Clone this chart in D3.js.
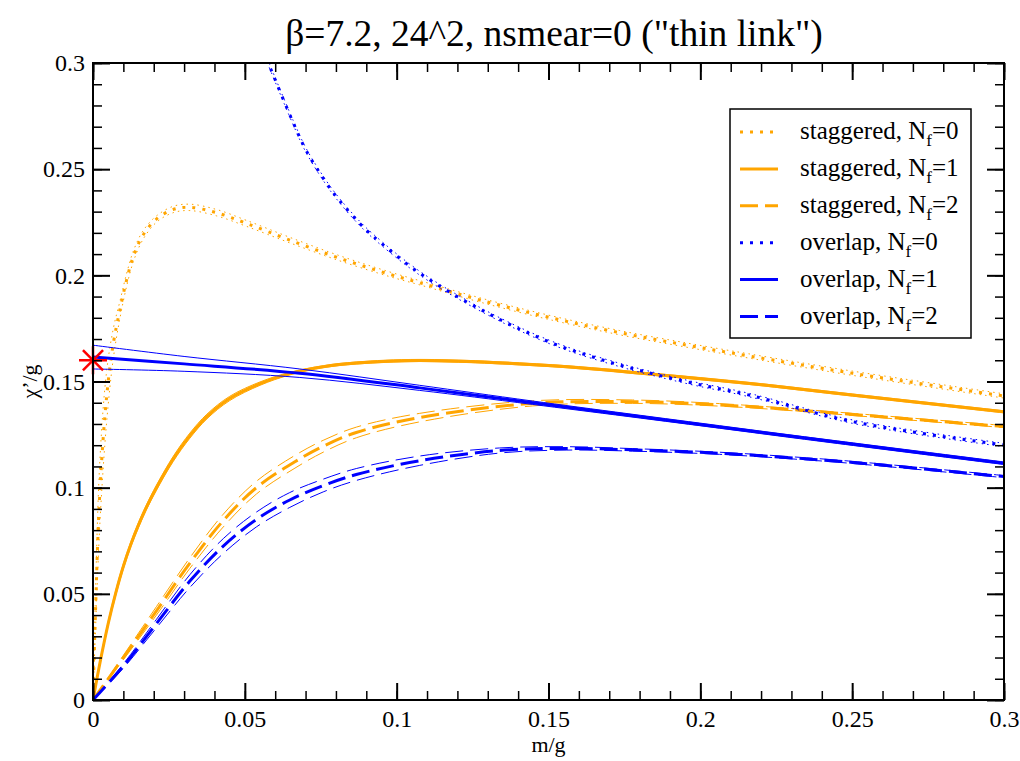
<!DOCTYPE html>
<html>
<head>
<meta charset="utf-8">
<script src="https://cdn.jsdelivr.net/npm/d3@7"></script>
<style>
  html, body { margin: 0; padding: 0; background: #fff; }
  svg { display: block; }
</style>
</head>
<body>
<svg id="chart" width="1020" height="761"></svg>
<script>
// ---------------- data ----------------
const titleText = 'β=7.2, 24^2, nsmear=0 ("thin link")';
const xLabel = "m/g";
const yLabel = "χ’/g";
const xTicks = [0, 0.05, 0.1, 0.15, 0.2, 0.25, 0.3];
const xTickLabels = ["0", "0.05", "0.1", "0.15", "0.2", "0.25", "0.3"];
const yTicks = [0, 0.05, 0.1, 0.15, 0.2, 0.25, 0.3];
const yTickLabels = ["0", "0.05", "0.1", "0.15", "0.2", "0.25", "0.3"];

// staggered, Nf=0
const stag0M   = [0, 0.0007, 0.0023, 0.0045, 0.0067, 0.0089, 0.0111, 0.0133, 0.0165, 0.0209, 0.0264, 0.0319, 0.0407, 0.0505, 0.0648, 0.0813, 0.0977, 0.1076, 0.1295, 0.1514, 0.1734, 0.1953, 0.2161, 0.2501, 0.3];
const stag0V   = [0, 0.036, 0.099, 0.143, 0.168, 0.184, 0.198, 0.209, 0.219, 0.2265, 0.231, 0.232, 0.2295, 0.2245, 0.2166, 0.208, 0.2005, 0.1965, 0.1876, 0.1798, 0.173, 0.1672, 0.162, 0.1539, 0.1432];
const stag0Err = [0, 0.008, 0.015, 0.012, 0.007, 0.004, 0.003, 0.0025, 0.002, 0.0015, 0.0015, 0.0015, 0.0015, 0.0014, 0.0013, 0.0012, 0.0011, 0.001, 0.001, 0.001, 0.001, 0.001, 0.001, 0.001, 0.001];

// staggered, Nf=1
const stag1M   = [0, 0.0025, 0.005, 0.0075, 0.01, 0.0125, 0.015, 0.0175, 0.0209, 0.0264, 0.0319, 0.0375, 0.045, 0.055, 0.0648, 0.076, 0.0867, 0.1076, 0.1514, 0.1843, 0.2161, 0.2501, 0.3];
const stag1V   = [0, 0.019, 0.036, 0.0505, 0.063, 0.0735, 0.0825, 0.0905, 0.1000, 0.1135, 0.1245, 0.1335, 0.1420, 0.1490, 0.1537, 0.1570, 0.1587, 0.1599, 0.1574, 0.1534, 0.1491, 0.1436, 0.1357];
const stag1Err = [0, 0.0008, 0.001, 0.0012, 0.0012, 0.0012, 0.0012, 0.0012, 0.0012, 0.0012, 0.0012, 0.0011, 0.001, 0.0008, 0.0006, 0.0005, 0.0005, 0.0005, 0.0005, 0.0005, 0.0005, 0.0005, 0.0005];

// staggered, Nf=2
const stag2M   = [0, 0.0100, 0.0209, 0.0319, 0.0429, 0.0538, 0.0665, 0.0758, 0.0867, 0.1076, 0.1448, 0.1777, 0.2063, 0.2326, 0.2501, 0.3];
const stag2V   = [0, 0.0200, 0.0420, 0.0645, 0.0845, 0.1000, 0.1122, 0.1195, 0.1260, 0.1330, 0.1397, 0.1405, 0.1390, 0.1365, 0.1345, 0.1288];
const stag2Err = [0, 0.001, 0.002, 0.0025, 0.003, 0.003, 0.003, 0.0028, 0.0025, 0.002, 0.0012, 0.0008, 0.0006, 0.0005, 0.0005, 0.0005];

// overlap, Nf=0
const ov0M   = [0.0560, 0.0659, 0.0703, 0.0769, 0.0813, 0.0878, 0.0922, 0.1076, 0.1295, 0.1514, 0.1734, 0.1953, 0.2161, 0.2501, 0.3];
const ov0V   = [0.306, 0.272, 0.2585, 0.2434, 0.235, 0.2245, 0.2185, 0.2010, 0.1825, 0.168, 0.1578, 0.1499, 0.1436, 0.1311, 0.1201];
const ov0Err = [0.001, 0.001, 0.001, 0.001, 0.001, 0.001, 0.001, 0.0009, 0.0008, 0.0008, 0.0008, 0.0008, 0.0008, 0.0008, 0.0008];

// overlap, Nf=1
const ov1M   = [0, 0.0300, 0.0681, 0.1076, 0.1448, 0.2063, 0.2326, 0.3];
const ov1V   = [0.1615, 0.1583, 0.1539, 0.1470, 0.1400, 0.1286, 0.1237, 0.1115];
const ov1Err = [0.0056, 0.0035, 0.002, 0.0012, 0.0008, 0.0006, 0.0006, 0.0006];

// overlap, Nf=2
const ov2M   = [0, 0.01, 0.0209, 0.0319, 0.0429, 0.0538, 0.0648, 0.0758, 0.0867, 0.1076, 0.1339, 0.1558, 0.1777, 0.2063, 0.2326, 0.2501, 0.3];
const ov2V   = [0, 0.0160, 0.0360, 0.0560, 0.0725, 0.0850, 0.0942, 0.1010, 0.1062, 0.1127, 0.1175, 0.1185, 0.1178, 0.1162, 0.1138, 0.1119, 0.1052];
const ov2Err = [0, 0.001, 0.002, 0.003, 0.0035, 0.0035, 0.0035, 0.003, 0.0028, 0.0022, 0.0012, 0.0008, 0.0006, 0.0005, 0.0005, 0.0005, 0.0005];

// red star marker
const starM = [0];
const starV = [0.16];

const seriesNames = ["staggered, N|f|=0", "staggered, N|f|=1", "staggered, N|f|=2",
                     "overlap, N|f|=0", "overlap, N|f|=1", "overlap, N|f|=2"];

// ---------------- drawing ----------------
const FONT = '"Liberation Serif", Tinos, "Times New Roman", Times, "Nimbus Roman", "DejaVu Serif", serif';
const svg = d3.select("#chart").style("font-family", FONT);
const L = 93, R = 1004, T = 63, B = 700;
const x = d3.scaleLinear().domain([0, 0.3]).range([L, R]);
const y = d3.scaleLinear().domain([0, 0.3]).range([B, T]);

const ORANGE = "#ffa500", BLUE = "#0000ff";
const DOT = "3,7", DOT_THIN = "1.5,4", DASH = "18,7";

const series = [
  {m: stag0M, v: stag0V, e: stag0Err, color: ORANGE, dash: DOT,  thinDash: DOT_THIN},
  {m: stag1M, v: stag1V, e: stag1Err, color: ORANGE, dash: null, thinDash: null},
  {m: stag2M, v: stag2V, e: stag2Err, color: ORANGE, dash: DASH, thinDash: DASH},
  {m: ov0M,   v: ov0V,   e: ov0Err,   color: BLUE,   dash: DOT,  thinDash: DOT_THIN},
  {m: ov1M,   v: ov1V,   e: ov1Err,   color: BLUE,   dash: null, thinDash: null},
  {m: ov2M,   v: ov2V,   e: ov2Err,   color: BLUE,   dash: DASH, thinDash: DASH},
];

svg.append("defs").append("clipPath").attr("id", "plotclip")
  .append("rect").attr("x", L).attr("y", T).attr("width", R - L).attr("height", B - T);

const line = d3.line().x(d => x(d[0])).y(d => y(d[1])).curve(d3.curveCatmullRom.alpha(0.5));
const plot = svg.append("g").attr("clip-path", "url(#plotclip)");

series.forEach(s => {
  const lo = s.m.map((m, i) => [m, s.v[i] - s.e[i]]);
  const hi = s.m.map((m, i) => [m, s.v[i] + s.e[i]]);
  const c  = s.m.map((m, i) => [m, s.v[i]]);
  [lo, hi].forEach(pts => {
    plot.append("path").attr("d", line(pts)).attr("fill", "none")
      .attr("stroke", s.color).attr("stroke-width", 1)
      .attr("stroke-dasharray", s.thinDash);
  });
  plot.append("path").attr("d", line(c)).attr("fill", "none")
    .attr("stroke", s.color).attr("stroke-width", 3)
    .attr("stroke-dasharray", s.dash);
});

// star marker (plus + x)
const star = svg.append("g");
starM.forEach((m, i) => {
  const cx = x(m), cy = y(starV[i]), r = 14;
  const g = star.append("g").attr("transform", `translate(${cx},${cy})`)
    .attr("stroke", "#ff0000").attr("stroke-width", 2.5);
  [[-r, 0, r, 0], [0, -r, 0, r], [-r * 0.72, -r * 0.72, r * 0.72, r * 0.72], [-r * 0.72, r * 0.72, r * 0.72, -r * 0.72]]
    .forEach(a => g.append("line").attr("x1", a[0]).attr("y1", a[1]).attr("x2", a[2]).attr("y2", a[3]));
});

// axes
const minorX = x.ticks(30), minorY = y.ticks(30);
const fontSize = 24;
function styleAxis(g, sw) {
  g.attr("font-family", FONT);
  g.select(".domain").remove();
  g.selectAll(".tick line").attr("stroke", "#000").attr("stroke-width", sw);
  g.selectAll(".tick text").attr("font-size", fontSize).attr("font-family", FONT).attr("fill", "#000");
}
svg.append("g").attr("transform", `translate(0,${B})`)
  .call(d3.axisBottom(x).tickValues(minorX).tickSize(-9).tickFormat(""))
  .call(g => styleAxis(g, 1.5));
svg.append("g").attr("transform", `translate(0,${B})`)
  .call(d3.axisBottom(x).tickValues(xTicks).tickSize(-17).tickPadding(10).tickFormat((d, i) => xTickLabels[i]))
  .call(g => styleAxis(g, 2));
svg.append("g").attr("transform", `translate(0,${T})`)
  .call(d3.axisTop(x).tickValues(minorX).tickSize(-9).tickFormat(""))
  .call(g => styleAxis(g, 1.5));
svg.append("g").attr("transform", `translate(0,${T})`)
  .call(d3.axisTop(x).tickValues(xTicks).tickSize(-17).tickFormat(""))
  .call(g => styleAxis(g, 2));
svg.append("g").attr("transform", `translate(${L},0)`)
  .call(d3.axisLeft(y).tickValues(minorY).tickSize(-9).tickFormat(""))
  .call(g => styleAxis(g, 1.5));
svg.append("g").attr("transform", `translate(${L},0)`)
  .call(d3.axisLeft(y).tickValues(yTicks).tickSize(-17).tickPadding(8).tickFormat((d, i) => yTickLabels[i]))
  .call(g => styleAxis(g, 2));
svg.append("g").attr("transform", `translate(${R},0)`)
  .call(d3.axisRight(y).tickValues(minorY).tickSize(-9).tickFormat(""))
  .call(g => styleAxis(g, 1.5));
svg.append("g").attr("transform", `translate(${R},0)`)
  .call(d3.axisRight(y).tickValues(yTicks).tickSize(-17).tickFormat(""))
  .call(g => styleAxis(g, 2));

svg.append("rect").attr("x", L).attr("y", T).attr("width", R - L).attr("height", B - T)
  .attr("fill", "none").attr("stroke", "#000").attr("stroke-width", 2);

// title and axis labels
svg.append("text").attr("x", 554).attr("y", 46).attr("text-anchor", "middle")
  .attr("font-size", 37.5).attr("font-family", FONT).text(titleText);
svg.append("text").attr("x", (L + R) / 2).attr("y", 752).attr("text-anchor", "middle")
  .attr("font-size", 22).attr("font-family", FONT).text(xLabel);
svg.append("text").attr("transform", `translate(37,${(T + B) / 2}) rotate(-90)`)
  .attr("text-anchor", "middle").attr("font-size", 22).attr("font-family", FONT).text(yLabel);

// legend
const lg = svg.append("g").attr("font-family", FONT);
lg.append("rect").attr("x", 730).attr("y", 109).attr("width", 241).attr("height", 229)
  .attr("fill", "#fff").attr("stroke", "#000").attr("stroke-width", 1.5);
series.forEach((s, i) => {
  const yy = 132 + i * 36.9;
  lg.append("line").attr("x1", 740).attr("x2", 778).attr("y1", yy).attr("y2", yy)
    .attr("stroke", s.color).attr("stroke-width", 3).attr("stroke-dasharray", s.dash);
  const parts = seriesNames[i].split("|");
  const t = lg.append("text").attr("x", 800).attr("y", yy + 7).attr("font-size", 25);
  t.append("tspan").text(parts[0]);
  t.append("tspan").attr("font-size", 17).attr("dy", 7).text(parts[1]);
  t.append("tspan").attr("dy", -7).text(parts[2]);
});
</script>
</body>
</html>
